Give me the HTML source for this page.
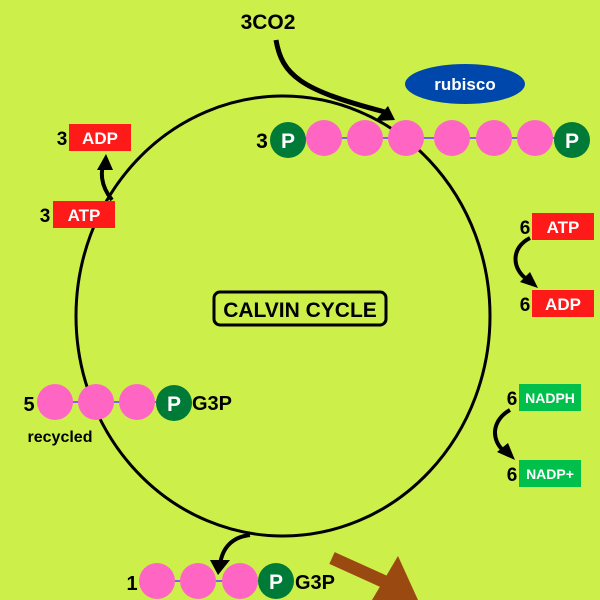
<!DOCTYPE html>
<html><head><meta charset="utf-8"><style>
body{margin:0;width:600px;height:600px;overflow:hidden;background:#cdef4a;}
svg{display:block;font-family:"Liberation Sans",sans-serif;font-weight:bold;}
</style></head><body>
<svg width="600" height="600" viewBox="0 0 600 600">
<rect width="600" height="600" fill="#cdef4a"/>
<ellipse cx="283" cy="316" rx="207" ry="220" fill="none" stroke="#000" stroke-width="3"/>
<!-- CO2 arrow -->
<g>
<path d="M276 40 C282 75 300 90 385 112" fill="none" stroke="#000" stroke-width="5"/>
<polygon points="375,121 388,106 395,120" fill="#000"/>
</g>
<text x="268" y="29" font-size="21" text-anchor="middle">3CO2</text>
<ellipse cx="465" cy="84" rx="60" ry="20" fill="#0047ab"/>
<text x="465" y="90" font-size="17" fill="#fff" text-anchor="middle">rubisco</text>
<!-- RuBP chain -->
<g>
<line x1="288" y1="138" x2="572" y2="138" stroke="#8a5cf0" stroke-width="2"/>
<circle cx="324" cy="138" r="18" fill="#ff66c4"/><circle cx="365" cy="138" r="18" fill="#ff66c4"/><circle cx="406" cy="138" r="18" fill="#ff66c4"/>
<circle cx="452" cy="138" r="18" fill="#ff66c4"/><circle cx="494" cy="138" r="18" fill="#ff66c4"/><circle cx="535" cy="138" r="18" fill="#ff66c4"/>
<circle cx="288" cy="140" r="18" fill="#007a37"/><text x="288" y="148" font-size="21" fill="#fff" text-anchor="middle">P</text>
<circle cx="572" cy="140" r="18" fill="#007a37"/><text x="572" y="148" font-size="21" fill="#fff" text-anchor="middle">P</text>
</g>
<text x="262" y="148" font-size="21" text-anchor="middle">3</text>
<!-- ADP/ATP left -->
<rect x="69" y="124" width="62" height="27" fill="#ff1a1a"/>
<text x="100" y="144" font-size="17" fill="#fff" text-anchor="middle">ADP</text>
<text x="62" y="145" font-size="19" text-anchor="middle">3</text>
<rect x="53" y="201" width="62" height="27" fill="#ff1a1a"/>
<text x="84" y="221" font-size="17" fill="#fff" text-anchor="middle">ATP</text>
<text x="45" y="222" font-size="19" text-anchor="middle">3</text>
<path d="M112 200 C100 185 100 170 105 162" fill="none" stroke="#000" stroke-width="4"/>
<polygon points="97,170 106,154 113,170" fill="#000"/>
<!-- right ATP/ADP -->
<rect x="532" y="213" width="62" height="27" fill="#ff1a1a"/>
<text x="563" y="233" font-size="17" fill="#fff" text-anchor="middle">ATP</text>
<text x="525" y="234" font-size="19" text-anchor="middle">6</text>
<rect x="532" y="290" width="62" height="27" fill="#ff1a1a"/>
<text x="563" y="310" font-size="17" fill="#fff" text-anchor="middle">ADP</text>
<text x="525" y="311" font-size="19" text-anchor="middle">6</text>
<path d="M530 238 C510 248 512 270 528 280" fill="none" stroke="#000" stroke-width="4"/>
<polygon points="520,282 538,288 530,272" fill="#000"/>
<!-- NADPH -->
<rect x="519" y="384" width="62" height="27" fill="#00c04b"/>
<text x="550" y="403" font-size="14" fill="#fff" text-anchor="middle">NADPH</text>
<text x="512" y="405" font-size="19" text-anchor="middle">6</text>
<rect x="519" y="460" width="62" height="27" fill="#00c04b"/>
<text x="550" y="479" font-size="14" fill="#fff" text-anchor="middle">NADP+</text>
<text x="512" y="481" font-size="19" text-anchor="middle">6</text>
<path d="M510 410 C492 420 490 440 505 452" fill="none" stroke="#000" stroke-width="4"/>
<polygon points="497,452 515,460 508,443" fill="#000"/>
<!-- Calvin cycle label -->
<rect x="214" y="292" width="172" height="33" rx="6" fill="none" stroke="#000" stroke-width="3"/>
<text x="300" y="317" font-size="21" text-anchor="middle">CALVIN CYCLE</text>
<!-- recycled G3P -->
<g>
<line x1="55" y1="402" x2="174" y2="402" stroke="#8a5cf0" stroke-width="2"/>
<circle cx="55" cy="402" r="18" fill="#ff66c4"/><circle cx="96" cy="402" r="18" fill="#ff66c4"/><circle cx="137" cy="402" r="18" fill="#ff66c4"/>
<circle cx="174" cy="403" r="18" fill="#007a37"/><text x="174" y="411" font-size="21" fill="#fff" text-anchor="middle">P</text>
</g>
<text x="212" y="410" font-size="20" text-anchor="middle">G3P</text>
<text x="29" y="411" font-size="20" text-anchor="middle">5</text>
<text x="60" y="442" font-size="16" text-anchor="middle">recycled</text>
<!-- output G3P -->
<path d="M250 535 C232 537 222 548 220 565" fill="none" stroke="#000" stroke-width="4"/>
<polygon points="210,560 218,575 230,560" fill="#000"/>
<g>
<line x1="157" y1="581" x2="276" y2="581" stroke="#8a5cf0" stroke-width="2"/>
<circle cx="157" cy="581" r="18" fill="#ff66c4"/><circle cx="198" cy="581" r="18" fill="#ff66c4"/><circle cx="240" cy="581" r="18" fill="#ff66c4"/>
<circle cx="276" cy="581" r="18" fill="#007a37"/><text x="276" y="589" font-size="21" fill="#fff" text-anchor="middle">P</text>
</g>
<text x="315" y="589" font-size="20" text-anchor="middle">G3P</text>
<text x="132" y="590" font-size="20" text-anchor="middle">1</text>
<g>
<path d="M332 558 L385 582" stroke="#9a4a10" stroke-width="13" fill="none"/>
<polygon points="372,600 398,556 418,600" fill="#9a4a10"/>
</g>
</svg>
</body></html>
